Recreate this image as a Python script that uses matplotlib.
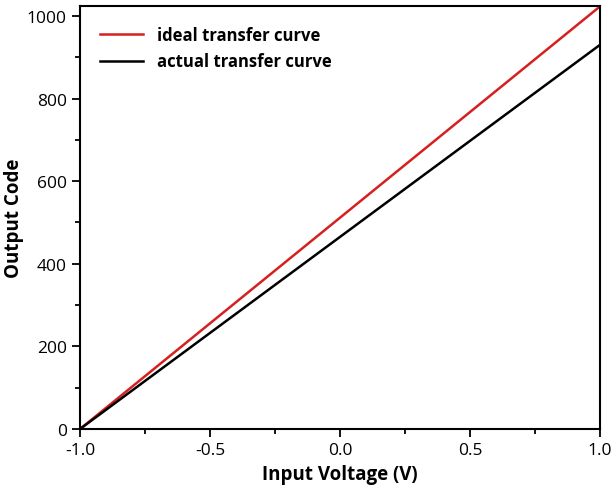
import numpy as np
import matplotlib.pyplot as plt

plt.rcParams['font.family'] = ['Open Sans', 'DejaVu Sans']

# input voltage endpoints and output codes
voltage = [-1.0, 1.0]
ideal_code = [0, 1023]
actual_code = [0, 930]

fig = plt.figure(figsize=(6.12, 4.89), dpi=100)
ax = fig.add_axes([80/612, 59/489, 520/612, 423/489])

ax.plot(voltage, ideal_code, color='#d62020', lw=1.8, label='ideal transfer curve')
ax.plot(voltage, actual_code, color='black', lw=1.8, label='actual transfer curve')

ax.set_xlim(-1.0, 1.0)
ax.set_ylim(0, 1024)
ax.set_xticks([-1.0, -0.5, 0.0, 0.5, 1.0])
ax.set_xticks([-0.75, -0.25, 0.25, 0.75], minor=True)
ax.set_yticks([0, 200, 400, 600, 800, 1000])
ax.set_yticks([100, 300, 500, 700, 900], minor=True)
ax.xaxis.set_major_formatter(plt.FormatStrFormatter('%.1f'))

ax.tick_params(which='major', direction='out', length=6, width=1.3, labelsize=12.5)
ax.tick_params(which='minor', direction='out', length=3.5, width=1.3)
for s in ax.spines.values():
    s.set_linewidth(1.5)

ax.set_xlabel('Input Voltage (V)', fontsize=13.5, fontweight='bold')
ax.set_ylabel('Output Code', fontsize=13.5, fontweight='bold')
ax.xaxis.set_label_coords(0.5, -0.082)
ax.yaxis.set_label_coords(-0.108, 0.5)

leg = ax.legend(loc='upper left', frameon=False, handlelength=2.6,
                borderaxespad=0.8, prop={'weight': 'bold', 'size': 12})

fig.savefig('out.png', dpi=100)
